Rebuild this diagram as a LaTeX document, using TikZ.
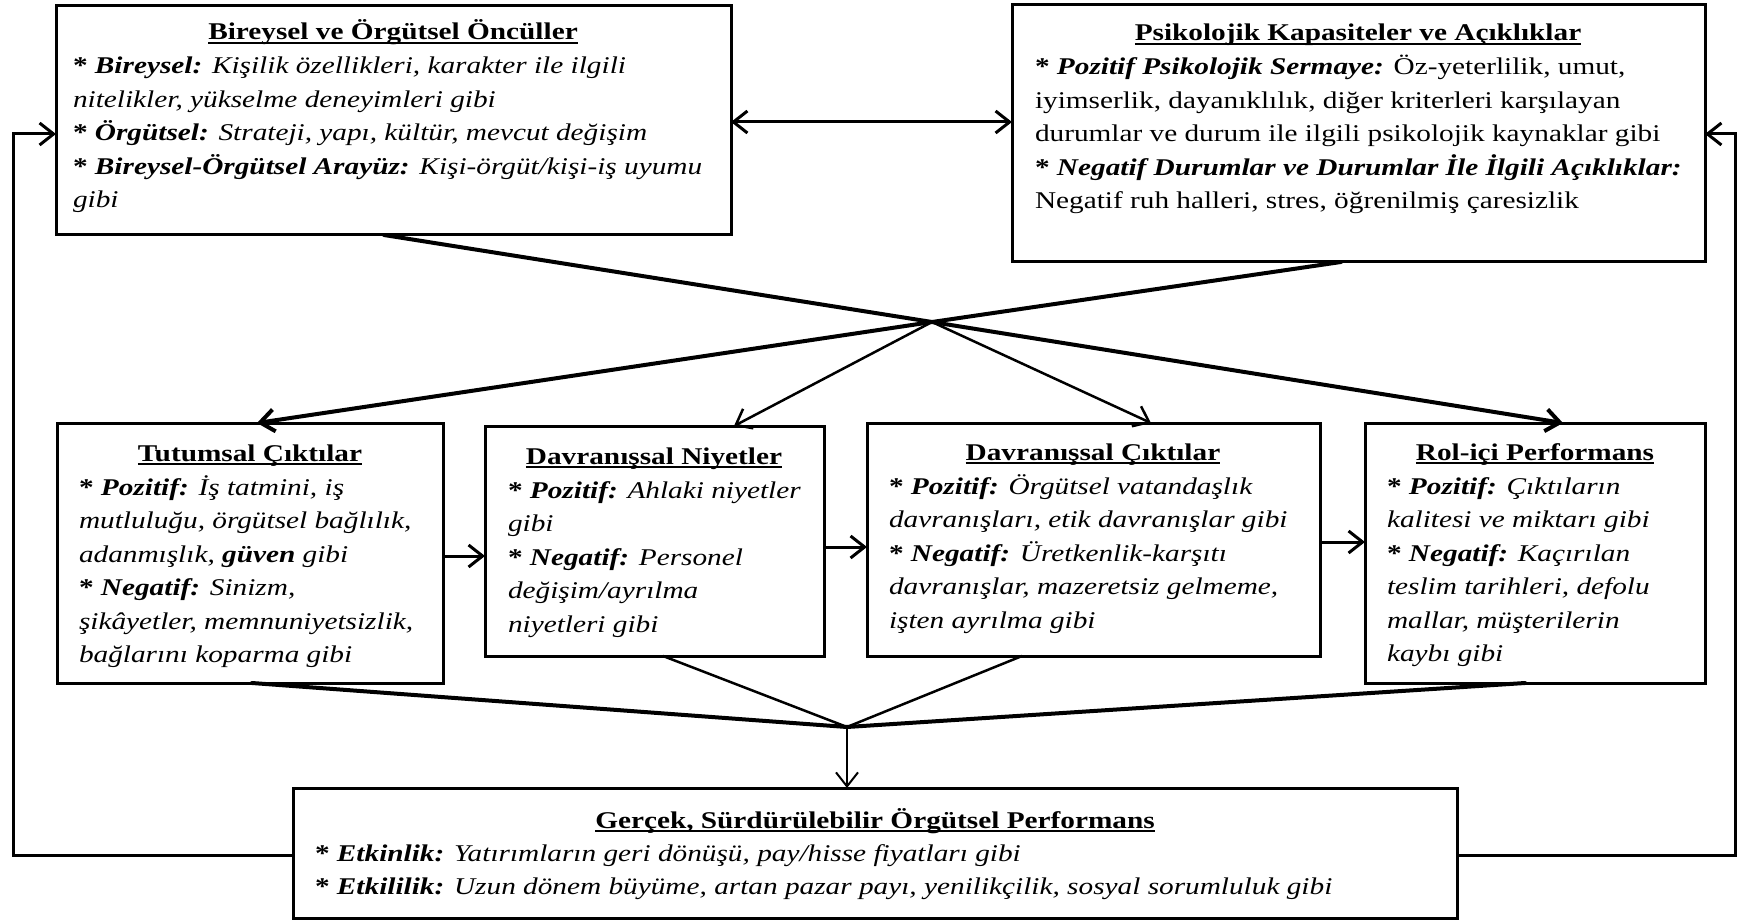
\documentclass[tikz,border=0pt]{standalone}
\usepackage{fontspec}
\setmainfont{Liberation Serif}[FakeStretch=1.22]
\usetikzlibrary{arrows.meta,calc}

% underlined bold heading
\newcommand{\headline}[1]{\setbox0\hbox{\bfseries #1}\rlap{\rule[-4pt]{\wd0}{1.8pt}}\box0}
% bold asterisk with bold-italic key word
\newcommand{\kw}[1]{\textbf{* \textit{#1}}}
% left-aligned body, baseline on the first line
\newcommand{\bodytext}[1]{\parbox[t]{1300pt}{\raggedright #1}}

\begin{document}
\begin{tikzpicture}[x=1pt,y=-1pt,
  box/.style={draw, rectangle, line width=3pt, inner sep=0pt, outer sep=0pt, anchor=north west},
  txt/.style={inner sep=0pt, outer sep=0pt, font=\fontsize{24}{33.5}\selectfont},
  ttl/.style={txt, anchor=base},
  bdy/.style={txt, anchor=base west},
  conn/.style={line width=3pt},
  heavy/.style={line width=4pt, line cap=round},
  light/.style={line width=2.5pt},
  thin/.style={line width=2pt},
  tip/.style={-{Straight Barb[length=14pt,width=22pt]}},
  tips/.style={{Straight Barb[length=14pt,width=22pt]}-{Straight Barb[length=14pt,width=22pt]}}
]
\useasboundingbox (0,0) rectangle (1741,920);

% ---- boxes ----
\node[box, minimum width=675pt,  minimum height=229pt] (b1) at (56,6) {};
\node[box, minimum width=693pt,  minimum height=257pt] (b2) at (1012,5) {};
\node[box, minimum width=386pt,  minimum height=260pt] (b3) at (57,423) {};
\node[box, minimum width=339pt,  minimum height=230pt] (b4) at (485,426) {};
\node[box, minimum width=453pt,  minimum height=233pt] (b5) at (867,423) {};
\node[box, minimum width=340pt,  minimum height=260pt] (b6) at (1365,423) {};
\node[box, minimum width=1164pt, minimum height=130pt] (b7) at (293,788) {};

% ---- texts ----
\node[ttl] (t1) at (393,40) {\headline{Bireysel ve Örgütsel Öncüller}};
\node[bdy] (d1) at (73,74) {\bodytext{%
\kw{Bireysel:} \textit{Kişilik özellikleri, karakter ile ilgili}\\
\textit{nitelikler, yükselme deneyimleri gibi}\\
\kw{Örgütsel:} \textit{Strateji, yapı, kültür, mevcut değişim}\\
\kw{Bireysel-Örgütsel Arayüz:} \textit{Kişi-örgüt/kişi-iş uyumu}\\
\textit{gibi}}};

\node[ttl] (t2) at (1358,41) {\headline{Psikolojik Kapasiteler ve Açıklıklar}};
\node[bdy] (d2) at (1035,75) {\bodytext{%
\kw{Pozitif Psikolojik Sermaye:} Öz-yeterlilik, umut,\\
iyimserlik, dayanıklılık, diğer kriterleri karşılayan\\
durumlar ve durum ile ilgili psikolojik kaynaklar gibi\\
\kw{Negatif Durumlar ve Durumlar İle İlgili Açıklıklar:}\\
Negatif ruh halleri, stres, öğrenilmiş çaresizlik}};

\node[ttl] (t3) at (250,461) {\headline{Tutumsal Çıktılar}};
\node[bdy] (d3) at (79,495) {\bodytext{%
\kw{Pozitif:} \textit{İş tatmini, iş}\\
\textit{mutluluğu, örgütsel bağlılık,}\\
\textit{adanmışlık, \textbf{güven} gibi}\\
\kw{Negatif:} \textit{Sinizm,}\\
\textit{şikâyetler, memnuniyetsizlik,}\\
\textit{bağlarını koparma gibi}}};

\node[ttl] (t4) at (654,464) {\headline{Davranışsal Niyetler}};
\node[bdy] (d4) at (508,498) {\bodytext{%
\kw{Pozitif:} \textit{Ahlaki niyetler}\\
\textit{gibi}\\
\kw{Negatif:} \textit{Personel}\\
\textit{değişim/ayrılma}\\
\textit{niyetleri gibi}}};

\node[ttl] (t5) at (1093,460) {\headline{Davranışsal Çıktılar}};
\node[bdy] (d5) at (889,494) {\bodytext{%
\kw{Pozitif:} \textit{Örgütsel vatandaşlık}\\
\textit{davranışları, etik davranışlar gibi}\\
\kw{Negatif:} \textit{Üretkenlik-karşıtı}\\
\textit{davranışlar, mazeretsiz gelmeme,}\\
\textit{işten ayrılma gibi}}};

\node[ttl] (t6) at (1535,460) {\headline{Rol-içi Performans}};
\node[bdy] (d6) at (1387,494) {\bodytext{%
\kw{Pozitif:} \textit{Çıktıların}\\
\textit{kalitesi ve miktarı gibi}\\
\kw{Negatif:} \textit{Kaçırılan}\\
\textit{teslim tarihleri, defolu}\\
\textit{mallar, müşterilerin}\\
\textit{kaybı gibi}}};

\node[ttl] (t7) at (875,828) {\headline{Gerçek, Sürdürülebilir Örgütsel Performans}};
\node[bdy] (d7) at (315,861) {\bodytext{%
\kw{Etkinlik:} \textit{Yatırımların geri dönüşü, pay/hisse fiyatları gibi}\\
\kw{Etkililik:} \textit{Uzun dönem büyüme, artan pazar payı, yenilikçilik, sosyal sorumluluk gibi}}};

% ---- guide points ----
\coordinate (X) at (932,322);
\coordinate (M) at (847,727);
\coordinate (x1) at (384,0);
\coordinate (x2) at (1341,0);
\coordinate (x3) at (257,0);
\coordinate (x4) at (734,0);
\coordinate (x5) at (1151,0);
\coordinate (x6) at (1563,0);
\coordinate (y3) at (252,0);
\coordinate (y4) at (663,0);
\coordinate (y5) at (1022,0);
\coordinate (y6) at (1525,0);
\coordinate (da) at (0,122);
\coordinate (h34) at (0,556);
\coordinate (h45) at (0,547);
\coordinate (h56) at (0,542);
\coordinate (fbL1) at (13,855);
\coordinate (fbL2) at (13,134);
\coordinate (fbR1) at (1735,855);
\coordinate (fbR2) at (1735,134);

% ---- connectors ----
\draw[conn,tips] (b1.east |- da) -- (b2.west |- da);

\draw[heavy,tip] (b1.south -| x1) -- (X) -- (b6.north -| x6);
\draw[heavy,tip] (b2.south -| x2) -- (X) -- (b3.north -| x3);
\draw[light,tip] (X) -- (b4.north -| x4);
\draw[light,tip] (X) -- (b5.north -| x5);

\draw[conn,tip] (b3.east |- h34) -- (b4.west |- h34);
\draw[conn,tip] (b4.east |- h45) -- (b5.west |- h45);
\draw[conn,tip] (b5.east |- h56) -- (b6.west |- h56);

\draw[heavy] (b3.south -| y3) -- (M);
\draw[light,line cap=round] (b4.south -| y4) -- (M);
\draw[light,line cap=round] (b5.south -| y5) -- (M);
\draw[heavy] (b6.south -| y6) -- (M);
\draw[thin,tip] (M) -- (b7.north -| M);

\draw[conn,tip] (b7.west |- fbL1) -- (fbL1) -- (fbL2) -- (b1.west |- fbL2);
\draw[conn,tip] (b7.east |- fbR1) -- (fbR1) -- (fbR2) -- (b2.east |- fbR2);
\end{tikzpicture}
\end{document}
